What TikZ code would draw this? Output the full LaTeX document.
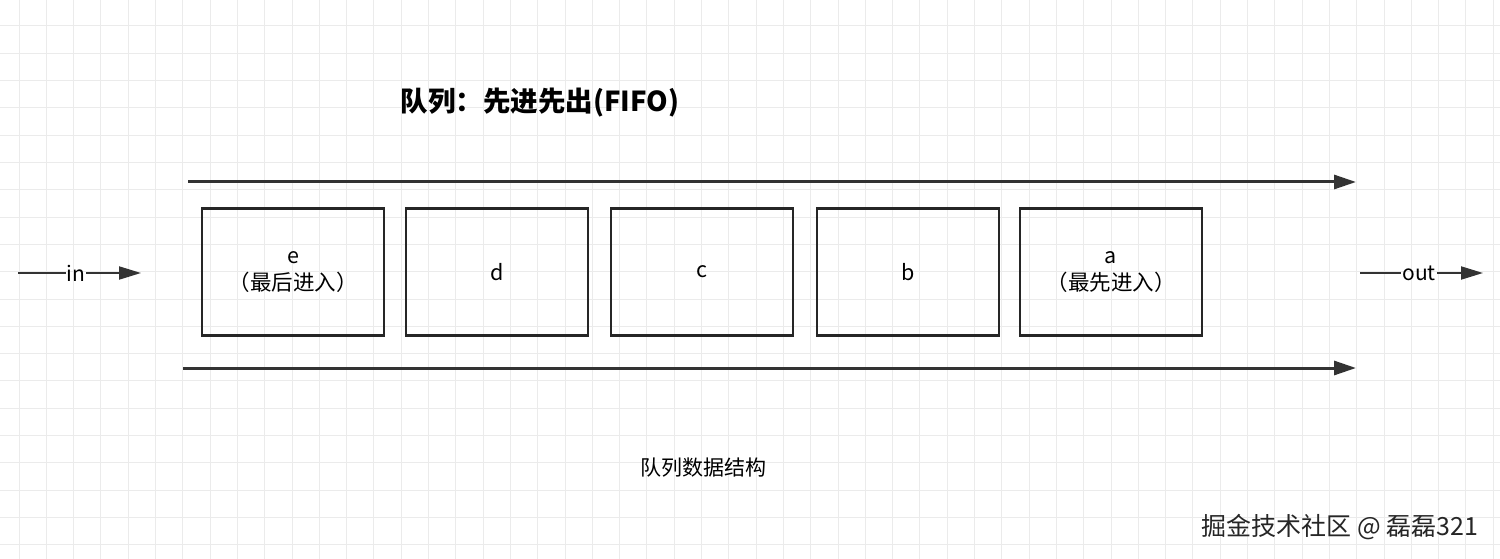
\documentclass[tikz,border=0pt]{standalone}
\usepackage{fontspec}
\setmainfont{Noto Sans CJK SC}
\usetikzlibrary{arrows.meta}
\begin{document}
\begin{tikzpicture}[x=1pt,y=-1pt,
  qbox/.style={draw=black!85,line width=2.6pt,minimum width=182pt,minimum height=127pt,inner sep=0pt,font=\fontsize{21.5}{27}\selectfont,align=center},
  bigarrow/.style={line width=3pt,draw=black!80,-{Triangle[length=22pt,width=14pt]}},
  sidearrow/.style={line width=2pt,draw=black!80,-{Triangle[length=22pt,width=13pt]}},
  lbl/.style={font=\fontsize{21}{24}\selectfont,inner sep=1pt}]
\useasboundingbox (0,0) rectangle (1500,559);
\fill[white] (0,0) rectangle (1500,559);
\foreach \i in {0,...,54} \draw[black!8,line width=1pt] ({19+27.3*\i},0) -- ({19+27.3*\i},559);
\foreach \j in {0,...,20} \draw[black!8,line width=1pt] (0,{26+27.3*\j}) -- (1500,{26+27.3*\j});
\node[font=\fontsize{27.5}{30}\selectfont\bfseries] (title) at (540,103) {队列：先进先出(FIFO)};
\coordinate (t1) at (188,182); \coordinate (t2) at (1356,182);
\coordinate (b1) at (183,368); \coordinate (b2) at (1356,368);
\draw[bigarrow] (t1) -- (t2);
\draw[bigarrow] (b1) -- (b2);
\node[qbox] (e) at (293,272) {e\\（最后进入）};
\node[qbox] (d) at (497,272) {d};
\node[qbox] (c) at (702,272) {c};
\node[qbox] (b) at (908,272) {b};
\node[qbox] (a) at (1111,272) {a\\（最先进入）};
\coordinate (i0) at (18,273); \coordinate (i1) at (141,273);
\node[lbl] (in) at (76,273) {in};
\draw[line width=2pt,black!80] (i0) -- (in.west);
\draw[sidearrow] (in.east) -- (i1);
\coordinate (o0) at (1360,273); \coordinate (o1) at (1483,273);
\node[lbl] (out) at (1419,273) {out};
\draw[line width=2pt,black!80] (o0) -- (out.west);
\draw[sidearrow] (out.east) -- (o1);
\node[font=\fontsize{21}{24}\selectfont] (cap) at (703,468) {队列数据结构};
\node[font=\fontsize{25}{28}\selectfont,text=black!85] (wm) at (1340,527) {掘金技术社区 @ 磊磊321};
\end{tikzpicture}
\end{document}
